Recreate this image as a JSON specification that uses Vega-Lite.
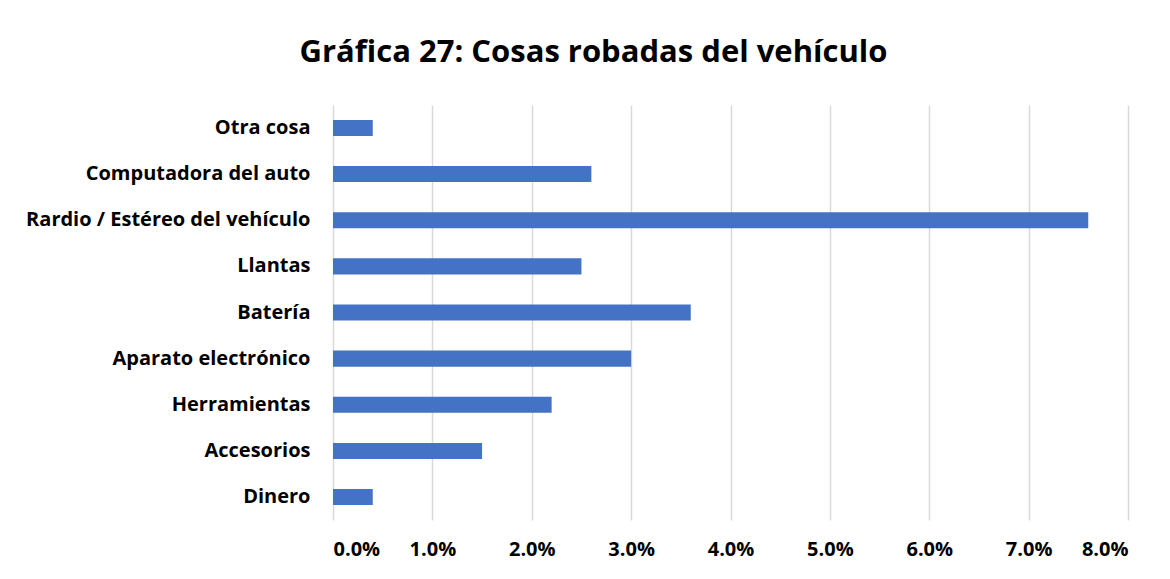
{
  "$schema": "https://vega.github.io/schema/vega-lite/v6.json",
  "width": 795,
  "height": 415,
  "autosize": {"type": "none"},
  "padding": {"left": 333, "top": 105, "right": 42, "bottom": 59},
  "background": "white",
  "title": {
    "text": "Gráfica 27: Cosas robadas del vehículo",
    "font": "Open Sans",
    "fontSize": 31,
    "fontWeight": "bold",
    "color": "#000000",
    "anchor": "middle",
    "frame": "group",
    "dx": -137,
    "offset": 36
  },
  "data": {
    "values": [
      {"item": "Otra cosa", "pct": 0.004},
      {"item": "Computadora del auto", "pct": 0.026},
      {"item": "Rardio / Estéreo del vehículo", "pct": 0.076},
      {"item": "Llantas", "pct": 0.025},
      {"item": "Batería", "pct": 0.036},
      {"item": "Aparato electrónico", "pct": 0.030},
      {"item": "Herramientas", "pct": 0.022},
      {"item": "Accesorios", "pct": 0.015},
      {"item": "Dinero", "pct": 0.004}
    ]
  },
  "mark": {"type": "bar", "color": "#4472C4"},
  "encoding": {
    "y": {
      "field": "item",
      "type": "nominal",
      "sort": null,
      "title": null,
      "scale": {"paddingInner": 0.653, "paddingOuter": 0.325},
      "axis": {
        "domain": false,
        "ticks": false,
        "grid": false,
        "labelFont": "Open Sans",
        "labelFontSize": 20,
        "labelFontWeight": "bold",
        "labelColor": "#000000",
        "labelPadding": 23,
        "labelLimit": 400
      }
    },
    "x": {
      "field": "pct",
      "type": "quantitative",
      "title": null,
      "scale": {"domain": [0, 0.08], "nice": false},
      "axis": {
        "values": [0, 0.01, 0.02, 0.03, 0.04, 0.05, 0.06, 0.07, 0.08],
        "format": ".1%",
        "domain": false,
        "ticks": false,
        "grid": true,
        "gridColor": "#d9d9d9",
        "gridWidth": 1.5,
        "labelFont": "Open Sans",
        "labelFontSize": 20,
        "labelFontWeight": "bold",
        "labelColor": "#000000",
        "labelPadding": 19
      }
    }
  },
  "config": {
    "view": {"stroke": null}
  }
}
